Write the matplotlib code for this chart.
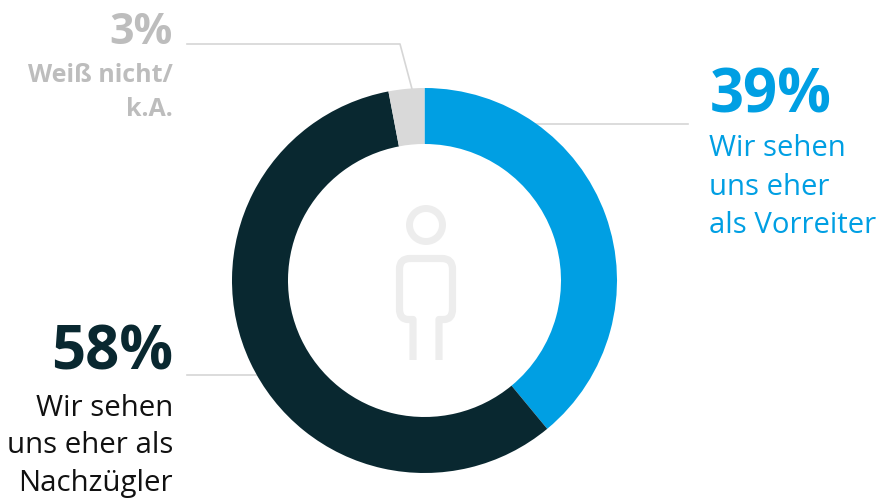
import matplotlib
matplotlib.use("Agg")
import matplotlib.pyplot as plt
from matplotlib.patches import Circle, PathPatch
from matplotlib.path import Path

values = [39, 58, 3]
colors = ["#009FE3", "#092830", "#D9D9D9"]
percent_labels = ["39%", "58%", "3%"]
right_lines = ["Wir sehen", "uns eher", "als Vorreiter"]
left_lines = ["Wir sehen", "uns eher als", "Nachzügler"]
grey_lines = ["Weiß nicht/", "k.A."]

W, H = 893, 499
fig = plt.figure(figsize=(W/100, H/100), dpi=100)
bg = fig.add_axes([0, 0, 1, 1])
bg.set_xlim(0, W); bg.set_ylim(H, 0); bg.axis("off")

# donut
cx, cy, r = 424.5, 280.5, 192.5
pie = fig.add_axes([(cx-r)/W, 1-(cy+r)/H, 2*r/W, 2*r/H])
pie.pie(values, colors=colors, startangle=90, counterclock=False, radius=1,
        wedgeprops=dict(width=56/192.5, linewidth=0))
pie.set_xlim(-1, 1); pie.set_ylim(-1, 1); pie.set_aspect("equal")

# person icon
ic = "#EDEDED"
bg.add_patch(Circle((426, 225), 16.5, fc="none", ec=ic, lw=5))
verts = [(413, 360), (413, 319.5), (408, 319.5), (399.5, 319.5), (399.5, 309),
         (399.5, 269), (399.5, 258.5), (410, 258.5),
         (442, 258.5), (452.5, 258.5), (452.5, 269),
         (452.5, 309), (452.5, 319.5), (444, 319.5), (439, 319.5), (439, 360)]
codes = [Path.MOVETO, Path.LINETO, Path.LINETO, Path.CURVE3, Path.CURVE3,
         Path.LINETO, Path.CURVE3, Path.CURVE3,
         Path.LINETO, Path.CURVE3, Path.CURVE3,
         Path.LINETO, Path.CURVE3, Path.CURVE3, Path.LINETO, Path.LINETO]
bg.add_patch(PathPatch(Path(verts, codes), fc="none", ec=ic, lw=5.2, capstyle="butt", joinstyle="round"))

# leader lines
lc = "#D6D6D6"
bg.plot([530, 688], [124, 124], color=lc, lw=1.2)
bg.plot([187, 400, 412], [44, 44, 89], color=lc, lw=1.2)
bg.plot([187, 262], [375, 375], color=lc, lw=1.2)

font = "Open Sans"
bg.text(710, 112, percent_labels[0], color=colors[0], fontsize=43, fontweight="bold", family=font, ha="left", va="baseline")
for line, y in zip(right_lines, [156, 195, 233]):
    bg.text(709, y, line, color=colors[0], fontsize=21.1, family=font, ha="left", va="baseline")

bg.text(173, 370, percent_labels[1], color=colors[1], fontsize=43, fontweight="bold", family=font, ha="right", va="baseline")
for line, y in zip(left_lines, [416, 453, 491]):
    bg.text(173, y, line, color="#111111", fontsize=21.2, family=font, ha="right", va="baseline")

bg.text(173, 44, percent_labels[2], color="#BDBDBD", fontsize=31, fontweight="bold", family=font, ha="right", va="baseline")
for line, y in zip(grey_lines, [82, 116]):
    bg.text(173, y, line, color="#BDBDBD", fontsize=18, fontweight="bold", family=font, ha="right", va="baseline")

fig.savefig("out.png", dpi=100, facecolor="white")
